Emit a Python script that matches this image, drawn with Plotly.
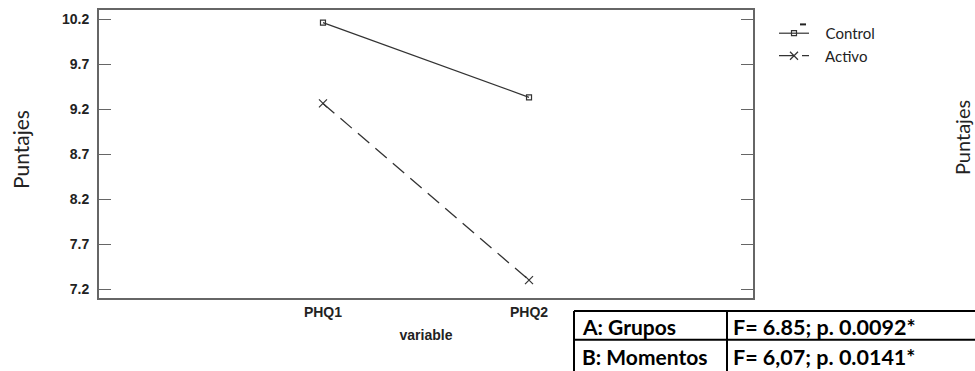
import plotly.graph_objects as go

categories = ["PHQ1", "PHQ2"]
control = [10.165, 9.334]
activo = [9.267, 7.303]
y_ticks = [7.2, 7.7, 8.2, 8.7, 9.2, 9.7, 10.2]
series_names = ["Control", "Activo"]
table_rows = [["A: Grupos", "F= 6.85; p. 0.0092*"],
              ["B: Momentos", "F= 6,07; p. 0.0141*"]]

W, H = 975, 371
L, R, T, B = 99, 753, 8, 298  # plot frame in pixels


def px(x):
    return (x - L) / (R - L)


def py(y):
    return (B - y) / (B - T)


pad = "\u00a0\u00a0\u00a0"
fig = go.Figure()
fig.add_trace(go.Scatter(x=[0, 1], y=control, name=pad + series_names[0], mode="lines+markers",
                         line=dict(color="#333333", width=1.2),
                         marker=dict(symbol="square-open", size=5, color="#333333", line=dict(width=1.2))))
fig.add_trace(go.Scatter(x=[0, 1], y=activo, name=pad + series_names[1], mode="lines+markers",
                         line=dict(color="#333333", width=1.3, dash="15px,8px"),
                         marker=dict(symbol="x-thin-open", size=8, color="#333333",
                                     line=dict(width=1.2, color="#333333"))))

fig.update_layout(
    width=W, height=H,
    margin=dict(l=L, r=W - R, t=T, b=H - B, pad=0),
    plot_bgcolor="white", paper_bgcolor="white",
    showlegend=True,
    legend=dict(x=px(774), y=py(15), xanchor="left", yanchor="top",
                font=dict(family="Lato", size=15, color="#222"),
                bgcolor="rgba(0,0,0,0)", tracegroupgap=0, itemwidth=30),
    xaxis=dict(range=[-1.087, 2.087], tickvals=[0, 1], ticktext=[f"<b>{c}</b>" for c in categories],
               showgrid=False, zeroline=False, showline=True, mirror=True,
               linecolor="#666", linewidth=1.8, ticks="",
               tickfont=dict(family="Arial", size=14, color="#222"),
               title=dict(text="<b>variable</b>", font=dict(family="Arial", size=14, color="#222"),
                          standoff=11)),
    yaxis=dict(range=[7.104, 10.305], tickvals=y_ticks, ticktext=[f"<b>{v}</b>" for v in y_ticks],
               showgrid=False, zeroline=False, showline=True, mirror="ticks",
               linecolor="#666", linewidth=1.8, ticks="inside", ticklen=12, tickcolor="#666",
               tickwidth=1.2,
               tickfont=dict(family="Arial", size=14, color="#222"), ticklabelstandoff=5),
)

# y axis titles (left, and the one at the right edge)
fig.add_annotation(text="Puntajes", xref="paper", yref="paper", x=px(20), y=py(149),
                   xanchor="center", yanchor="middle",
                   textangle=-90, showarrow=False, font=dict(family="Lato", size=21, color="#222"))
fig.add_annotation(text="Puntajes", xref="paper", yref="paper", x=px(962), y=py(136),
                   xanchor="center", yanchor="middle",
                   textangle=-90, showarrow=False, font=dict(family="Lato", size=20, color="#222"))

# small mark above legend
fig.add_shape(type="line", xref="paper", yref="paper", x0=px(800), y0=py(22.5), x1=px(806), y1=py(22.5),
              line=dict(color="#222", width=2))

# statistics table
top, mid, bot = 311, 340, 374
left, div, right = 574, 727, 990
for (x0, y0, x1, y1) in [(left, top, right, top), (left, mid, right, mid), (left, bot, right, bot),
                         (left, top, left, bot), (div, top, div, bot)]:
    fig.add_shape(type="line", xref="paper", yref="paper", x0=px(x0), y0=py(y0), x1=px(x1), y1=py(y1),
                  line=dict(color="black", width=2))
row_centers = [327, 357]
for yc, row in zip(row_centers, table_rows):
    fig.add_annotation(text=f"<b>{row[0]}</b>", xref="paper", yref="paper", x=px(580), y=py(yc),
                       xanchor="left", yanchor="middle", showarrow=False,
                       font=dict(family="Lato", size=21, color="black"))
    fig.add_annotation(text=f"<b>{row[1]}</b>", xref="paper", yref="paper", x=px(731), y=py(yc),
                       xanchor="left", yanchor="middle", showarrow=False,
                       font=dict(family="Lato", size=21.5, color="black"))

fig.write_html("out.html", config={"displayModeBar": False},
               post_script="document.body.style.margin='0';document.body.style.overflow='hidden';")
